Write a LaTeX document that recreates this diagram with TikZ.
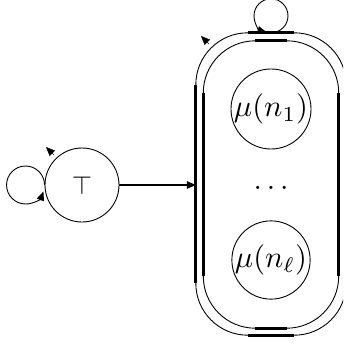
\documentclass[tikz,border=0pt]{standalone}
\usetikzlibrary{arrows.meta,calc}
\begin{document}
\begin{tikzpicture}[x=1pt,y=-1pt,
  thinline/.style={line width=0.9pt},
  thickline/.style={line width=2.8pt},
  state/.style={circle,draw,line width=0.9pt,inner sep=0pt,minimum size=#1},
  arrtip/.style={-{Triangle[length=9pt,width=7.5pt]}},
]
\newcommand{\myscaledmath}[2]{\scalebox{#1}{$#2$}}
\useasboundingbox (0,0) rectangle (343,345);
\clip (0,0) rectangle (343,345);
\node[state=74pt] (T) at (82,185) {\myscaledmath{2.6}{\top}};
\node[minimum width=150pt,minimum height=302pt,inner sep=0pt] (B) at (271,184) {};
\node[minimum width=135pt,minimum height=287pt,inner sep=0pt] (Bi) at (271,184.5) {};
\node[state=76pt] (n1) at (271,109) {\myscaledmath{3.05}{\mu(n_1)}};
\node (dots) at (271,188) {\myscaledmath{3}{\dots}};
\node[state=76pt] (nl) at (271,260) {\myscaledmath{3.05}{\mu(n_\ell)}};
% box outlines
\draw[thinline,rounded corners=52pt] (B.north west) rectangle (B.south east);
\draw[thinline,rounded corners=52pt] (Bi.north west) rectangle (Bi.south east);
\foreach \b in {B,Bi}{
  \draw[thickline] ($(\b.north west)+(0,52)$) -- ($(\b.south west)+(0,-52)$);
  \draw[thickline] ($(\b.north east)+(0,52)$) -- ($(\b.south east)+(0,-52)$);
  \draw[thickline] ($(\b.north west)+(52,0)$) -- ($(\b.north east)+(-52,0)$);
  \draw[thickline] ($(\b.south west)+(52,0)$) -- ($(\b.south east)+(-52,0)$);
}
% arrow
\draw[line width=1.3pt,arrtip] (T.east) -- (T.east -| B.west);
% loops
\draw[thinline,arrtip] (T.west) arc[start angle=0,end angle=340,radius=19pt];
\draw[thinline,arrtip] (B.north) arc[start angle=270,end angle=615,radius=17pt];
% small marks
\coordinate (ta) at (54,155);
\coordinate (tb) at (46,147);
\coordinate (ba) at (209,44);
\coordinate (bb) at (201,36);
\draw[line width=0.4pt,arrtip] (ta) -- (tb);
\draw[line width=0.4pt,arrtip] (ba) -- (bb);
\end{tikzpicture}
\end{document}
